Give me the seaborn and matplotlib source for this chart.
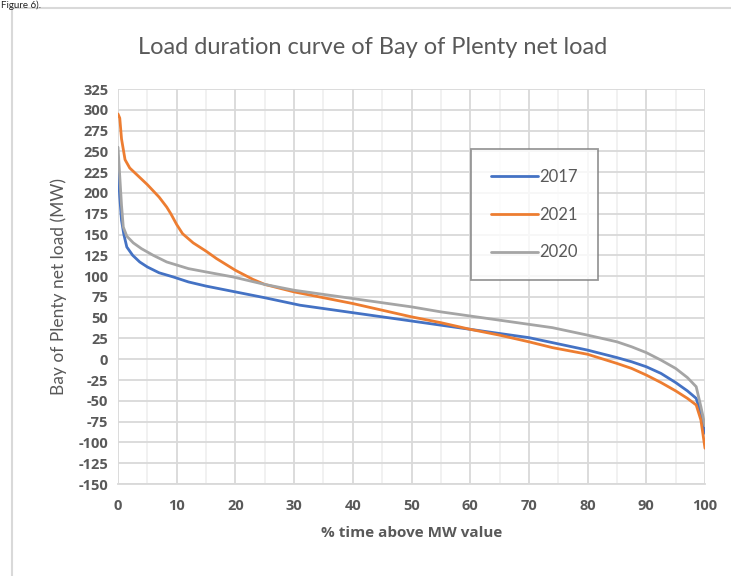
import numpy as np
import pandas as pd
import matplotlib
matplotlib.use("Agg")
import matplotlib.pyplot as plt
import seaborn as sns
from matplotlib.patches import Rectangle
from matplotlib.ticker import MultipleLocator

# % time above MW value, and net load (MW)
x_2017 = [0, 0.3, 0.6, 1.0, 1.5, 2.5, 3.7, 5, 7, 9.4, 12, 15, 20, 25, 31, 35, 40, 45, 50, 55, 60,
          65, 70, 74, 80, 85, 87.5, 90, 92.5, 95, 97, 98.5, 99.3, 100]
y_2017 = [230, 195, 167, 150, 135, 125, 117, 111, 104, 99, 93, 88, 81, 74, 65, 61, 56, 51, 46, 41, 36,
          31, 26, 20, 11, 2, -3, -9, -17, -28, -38, -47, -65, -89]

x_2021 = [0, 0.3, 0.6, 1.2, 2, 3.5, 5, 7, 8.3, 9, 10, 11, 12.8, 15, 16.8, 20, 23, 25, 30, 35, 40,
          45, 50, 55, 60, 65, 70, 74, 80, 85, 87.5, 90, 92.5, 95, 97, 98.5, 99.3, 100]
y_2021 = [295, 290, 265, 240, 230, 220, 210, 195, 183, 175, 162, 151, 140, 130, 121, 107, 96, 90, 81, 74, 67,
          59, 51, 44, 36, 29, 21, 14, 6, -5, -11, -19, -28, -38, -47, -55, -73, -107]

x_2020 = [0, 0.3, 0.6, 0.9, 1.5, 2.6, 4, 6, 8.3, 12, 15, 19.6, 25, 30, 35, 40, 45, 50, 55, 60,
          65, 70, 74, 80, 85, 87.5, 90, 92.5, 95, 97, 98.5, 99.3, 100]
y_2020 = [255, 220, 185, 159, 148, 140, 133, 125, 117, 109, 105, 99, 90, 83, 78, 73, 68, 63, 57, 52,
          47, 42, 38, 29, 21, 15, 8, -1, -11, -22, -33, -57, -80]

years = ["2017", "2021", "2020"]
series_x = [x_2017, x_2021, x_2020]
series_y = [y_2017, y_2021, y_2020]
colors = ["#4472C4", "#ED7D31", "#A5A5A5"]

df = pd.concat([pd.DataFrame({"pct": xs, "MW": ys, "year": yr})
                for xs, ys, yr in zip(series_x, series_y, years)], ignore_index=True)

sns.set_style("white")
plt.rcParams['font.family'] = ['Lato', 'DejaVu Sans']
text_col = "#595959"

fig = plt.figure(figsize=(7.31, 5.76), dpi=100)
ax = fig.add_axes([118 / 731, 1 - 484 / 576, 587 / 731, 395 / 576])

# outer chart border
fig.patches.append(Rectangle((12 / 731, -0.1), 1.2, 1 - 8 / 576 + 0.1, transform=fig.transFigure,
                             fill=False, edgecolor="#D9D9D9", linewidth=1.5, zorder=0))

sns.lineplot(data=df, x="pct", y="MW", hue="year", hue_order=years, palette=colors,
             linewidth=2.0, sort=False, estimator=None, ax=ax)
for ln in ax.get_lines():
    ln.set_solid_joinstyle("round")

ax.set_xlim(0, 100)
ax.set_ylim(-150, 325)
ax.xaxis.set_major_locator(MultipleLocator(10))
ax.xaxis.set_minor_locator(MultipleLocator(5))
ax.yaxis.set_major_locator(MultipleLocator(25))
ax.grid(which="major", color="#D9D9D9", linewidth=1.3)
ax.grid(which="minor", axis="x", color="#F0F0F0", linewidth=1.3)
ax.set_axisbelow(True)
for side in ["top", "right", "left"]:
    ax.spines[side].set_visible(False)
ax.spines["bottom"].set_color("#D9D9D9")
ax.spines["bottom"].set_linewidth(1.3)
ax.tick_params(axis="x", which="major", length=5, color="#D9D9D9", width=1.3, pad=6)
ax.tick_params(axis="x", which="minor", length=0)
ax.tick_params(axis="y", length=5, color="#D9D9D9", width=1.3, pad=2)
ax.set_yticks(np.arange(-150, 326, 25))
ax.set_yticklabels([str(v) for v in range(-150, 326, 25)])
for lbl in ax.get_xticklabels() + ax.get_yticklabels():
    lbl.set_fontfamily(["Open Sans", "DejaVu Sans"])
    lbl.set_fontsize(10.5)
    lbl.set_fontweight("bold")
    lbl.set_color(text_col)

ax.set_xlabel("% time above MW value", fontsize=11, fontweight="bold", color=text_col, labelpad=9,
              family=["Open Sans", "DejaVu Sans"])
ax.set_ylabel("Bay of Plenty net load (MW)", fontsize=12.5, color=text_col, labelpad=8)
fig.text(0.5 + 0.01, 1 - 47 / 576, "Load duration curve of Bay of Plenty net load",
         ha="center", va="center", fontsize=17, color=text_col)
fig.text(0.002, 0.999, "Figure 6).", ha="left", va="top", fontsize=7, color="#222222")

leg = ax.legend(loc="upper left", bbox_to_anchor=(471 / 731, 1 - 149 / 576),
                bbox_transform=fig.transFigure, fontsize=12, frameon=True, fancybox=False,
                handlelength=2.8, labelspacing=1.3, borderpad=1.2, handletextpad=0.1,
                borderaxespad=0)
leg.get_frame().set_edgecolor("#7F7F7F")
leg.get_frame().set_linewidth(1.3)
for t in leg.get_texts():
    t.set_color(text_col)

fig.savefig("out.png", dpi=100)
